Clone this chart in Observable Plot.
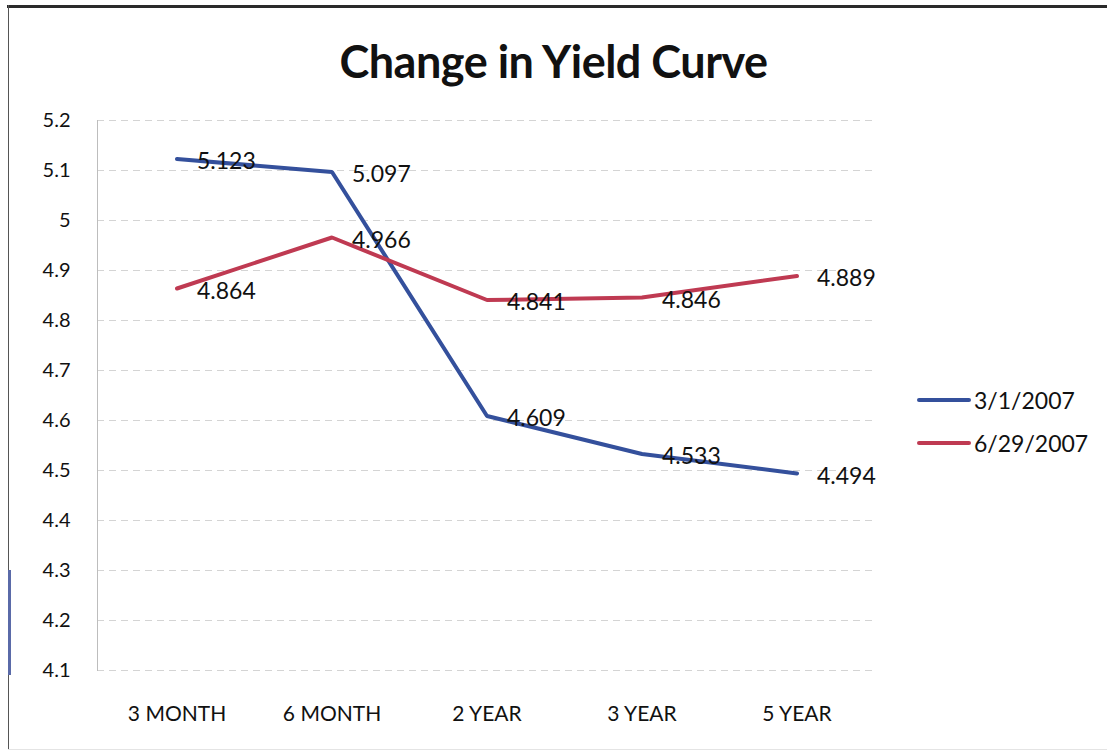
<!DOCTYPE html>
<html>
<head>
<meta charset="utf-8">
<script src="https://cdn.jsdelivr.net/npm/d3@7"></script>
<script src="https://cdn.jsdelivr.net/npm/@observablehq/plot@0.6"></script>
<style>
  html, body { margin: 0; padding: 0; background: #fff; }
  body { width: 1107px; height: 753px; position: relative; overflow: hidden; font-family: Lato, "Open Sans", sans-serif; }
  #frameTop { position: absolute; left: 7px; top: 5px; width: 1100px; height: 3px; background: #2a2a2a; }
  #frameLeft { position: absolute; left: 8px; top: 5px; width: 1px; height: 745px; background: #555; }
  #frameBottom { position: absolute; left: 8px; top: 749px; width: 1099px; height: 1px; background: #e4e4e4; }
  #scanMark { position: absolute; left: 8px; top: 570px; width: 3px; height: 105px; background: #5a6aa8; }
  #title { position: absolute; left: 0; top: 34px; width: 1107px; text-align: center; font-size: 45px; line-height: 54px; font-weight: bold; color: #111; letter-spacing: -0.5px; }
  #chart { position: absolute; left: 0; top: 100px; }
  .legend { position: absolute; left: 917px; font-size: 23px; line-height: 28px; color: #111; display: flex; align-items: center; }
  .legend .sw { width: 54px; height: 4px; margin-right: 3px; border-radius: 2px; }
</style>
</head>
<body>
<div id="frameTop"></div>
<div id="frameLeft"></div>
<div id="frameBottom"></div>
<div id="scanMark"></div>
<div id="title">Change in Yield Curve</div>
<div id="chart"></div>
<div id="legend"></div>
<script>
const categories = ["3 MONTH", "6 MONTH", "2 YEAR", "3 YEAR", "5 YEAR"];
const seriesNames = ["3/1/2007", "6/29/2007"];
const values20070301 = [5.123, 5.097, 4.609, 4.533, 4.494];
const values20070629 = [4.864, 4.966, 4.841, 4.846, 4.889];
const yTicks = [4.1, 4.2, 4.3, 4.4, 4.5, 4.6, 4.7, 4.8, 4.9, 5, 5.1, 5.2];
const colors = ["#34509c", "#bf3a52"];

const data = [];
categories.forEach((c, i) => {
  data.push({cat: c, value: values20070301[i], series: seriesNames[0]});
});
categories.forEach((c, i) => {
  data.push({cat: c, value: values20070629[i], series: seriesNames[1]});
});

const chart = Plot.plot({
  width: 1107,
  height: 653,
  marginLeft: 97,
  marginRight: 231,
  marginTop: 20,
  marginBottom: 83,
  style: {fontFamily: "Lato, 'Open Sans', sans-serif", background: "transparent"},
  x: {type: "band", domain: categories, padding: 0, label: null},
  y: {domain: [4.1, 5.2], label: null},
  color: {domain: seriesNames, range: colors},
  marks: [
    Plot.gridY(yTicks, {stroke: "#b8b8b8", strokeOpacity: 0.6, strokeDasharray: "7,5", strokeWidth: 1}),
    Plot.frame({anchor: "left", stroke: "#bdbdbd", strokeWidth: 1}),
    Plot.axisY(yTicks, {tickSize: 0, tickPadding: 27, fontSize: 20, fill: "#111", tickFormat: d => String(d), label: null}),
    Plot.axisX({tickSize: 0, tickPadding: 36, fontSize: 21, fill: "#111", label: null}),
    Plot.line(data, {x: "cat", y: "value", z: "series", stroke: "series", strokeWidth: 4, strokeLinejoin: "miter"}),
    Plot.text(data, {x: "cat", y: "value", text: d => String(d.value), textAnchor: "start", dx: 20, dy: 3, fontSize: 23, fill: "#111"})
  ]
});
document.getElementById("chart").appendChild(chart);

const legend = document.getElementById("legend");
seriesNames.forEach((name, i) => {
  const row = document.createElement("div");
  row.className = "legend";
  row.style.top = (386 + i * 43) + "px";
  const sw = document.createElement("div");
  sw.className = "sw";
  sw.style.background = colors[i];
  const tx = document.createElement("span");
  tx.textContent = name;
  row.appendChild(sw);
  row.appendChild(tx);
  legend.appendChild(row);
});
</script>
</body>
</html>
